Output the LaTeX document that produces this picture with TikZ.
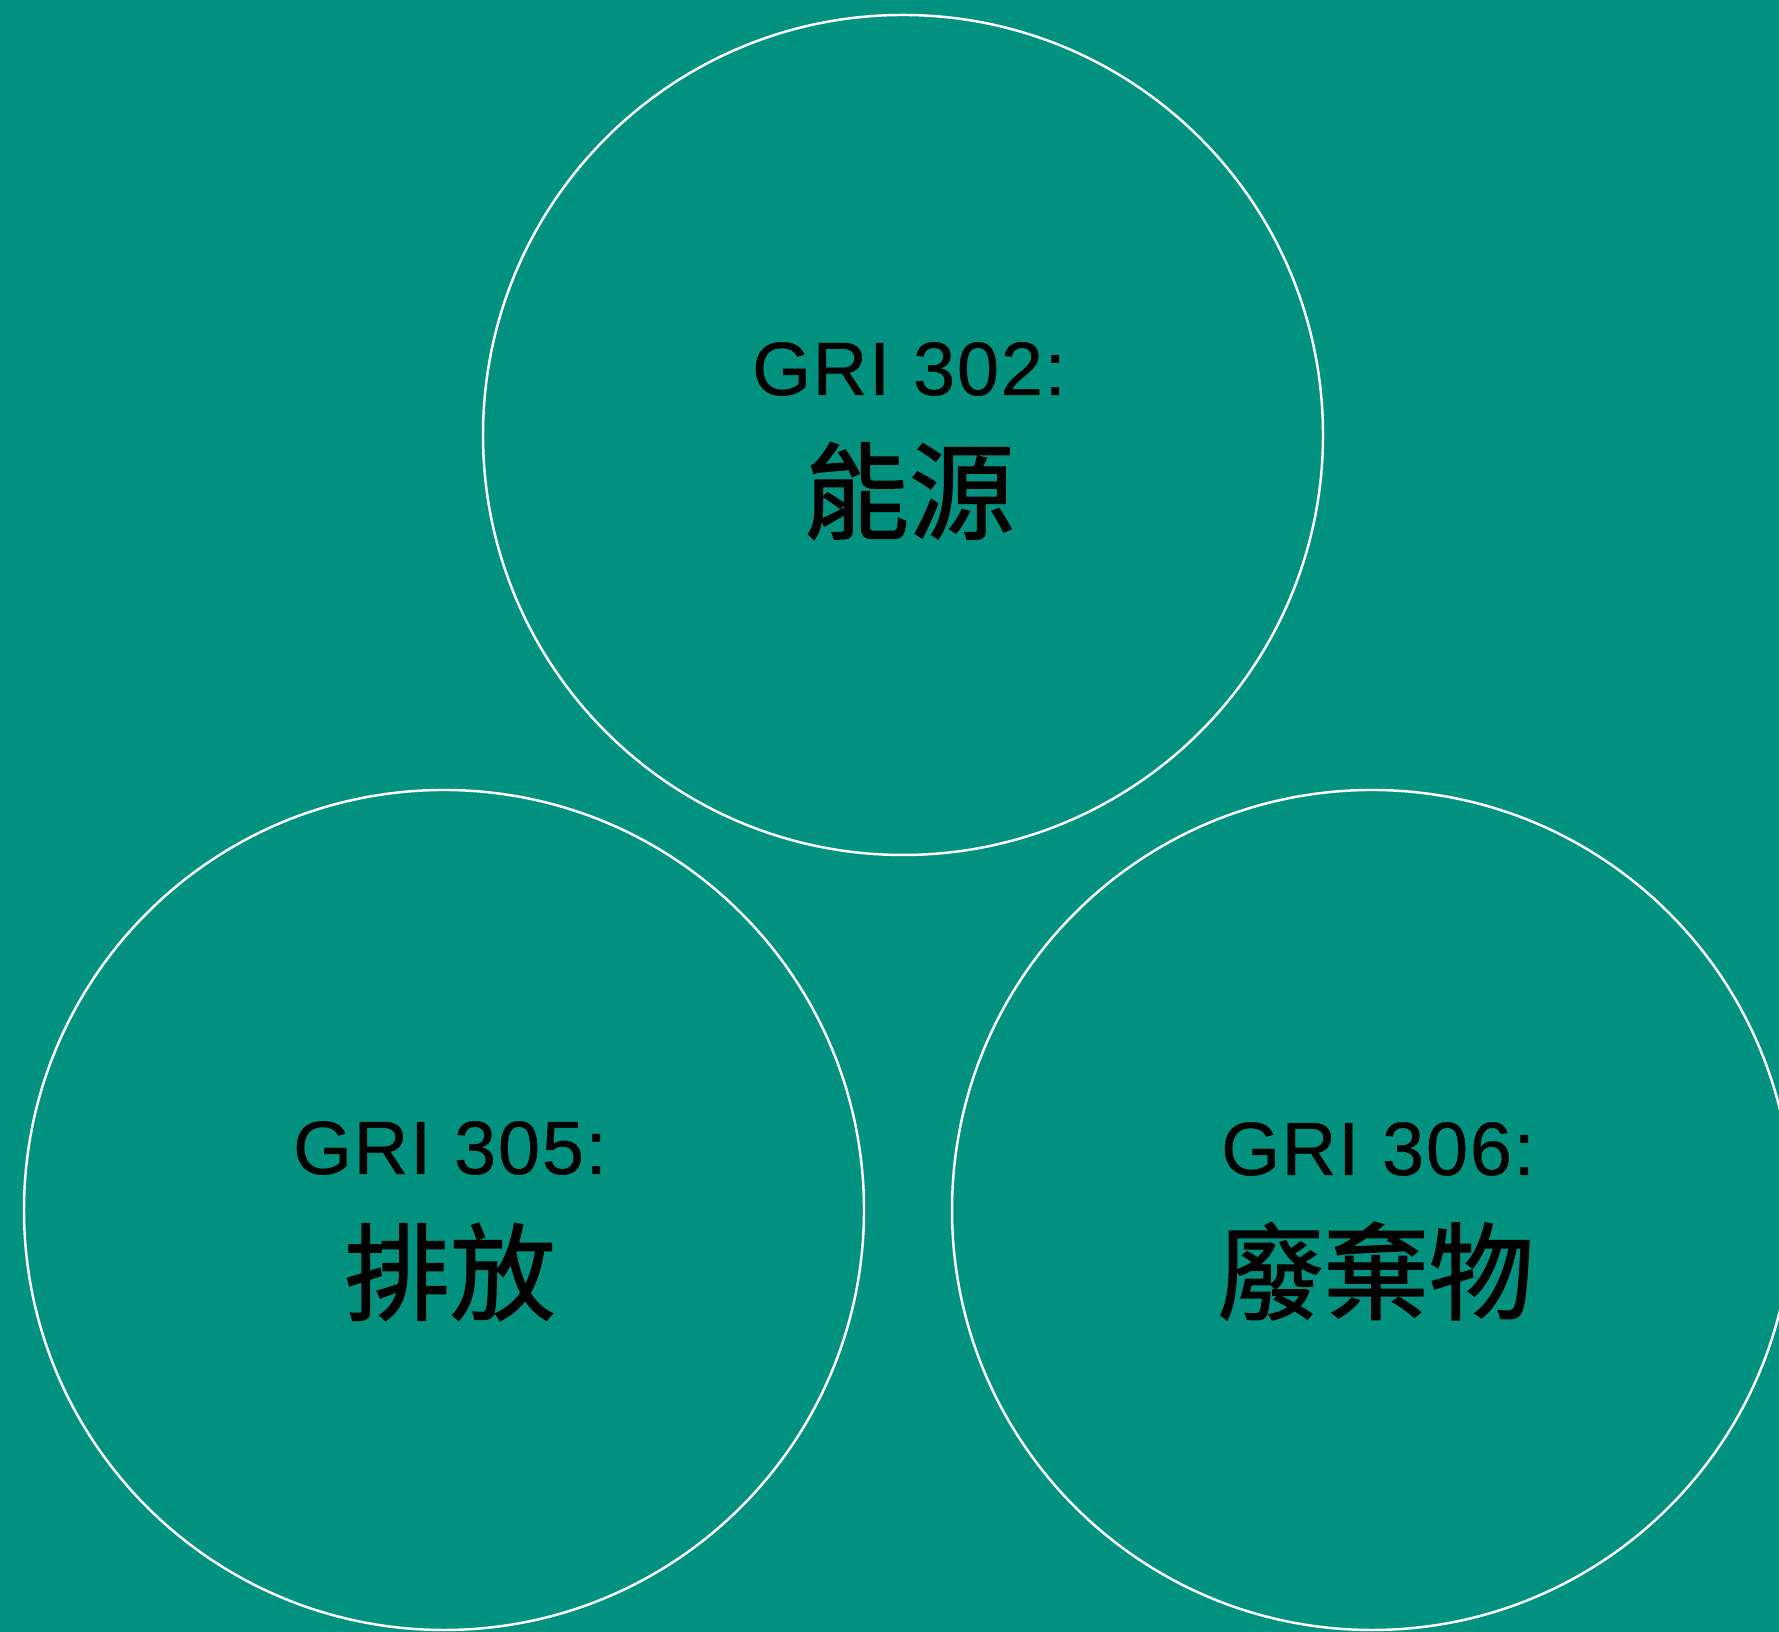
\documentclass[tikz,border=0pt]{standalone}
\usepackage{fontspec}
\setmainfont{Liberation Sans}
\newfontfamily\gri[LetterSpace=2.5,FakeBold=0.6]{Liberation Sans}
\newfontfamily\cjk[FakeBold=1.3]{Noto Sans CJK TC}
\usetikzlibrary{positioning}
\definecolor{griteal}{RGB}{4,146,128}

\begin{document}
\begin{tikzpicture}[
        topic/.style={circle,draw=white,line width=0.7pt,
            minimum size=8.4cm,inner sep=0pt},
        code/.style={font=\gri\fontsize{21.5}{24}\selectfont,text=black},
        title/.style={font=\cjk\fontsize{30}{34}\selectfont,text=black}
    ]

    % Background
    \fill[griteal] (0,0) rectangle (17.79,16.32);
    \useasboundingbox (0,0) rectangle (17.79,16.32);
    \clip (0,0) rectangle (17.79,16.32);

    % GRI 302 top circle
    \node[topic] (energy) at (9.03,11.97) {};
    \node[code] (energycode) at (9.09,12.63) {GRI 302:};
    \node[title] (energytitle) at (9.09,11.41) {能源};

    % GRI 305 bottom left
    \node[topic] (emission) at (4.44,4.22) {};
    \node[code] (emissioncode) at (4.50,4.84) {GRI 305:};
    \node[title] (emissiontitle) at (4.50,3.60) {排放};

    % GRI 306 bottom right
    \node[topic] (waste) at (13.72,4.22) {};
    \node[code] (wastecode) at (13.78,4.83) {GRI 306:};
    \node[title] (wastetitle) at (13.76,3.61) {廢棄物};

\end{tikzpicture}
\end{document}
